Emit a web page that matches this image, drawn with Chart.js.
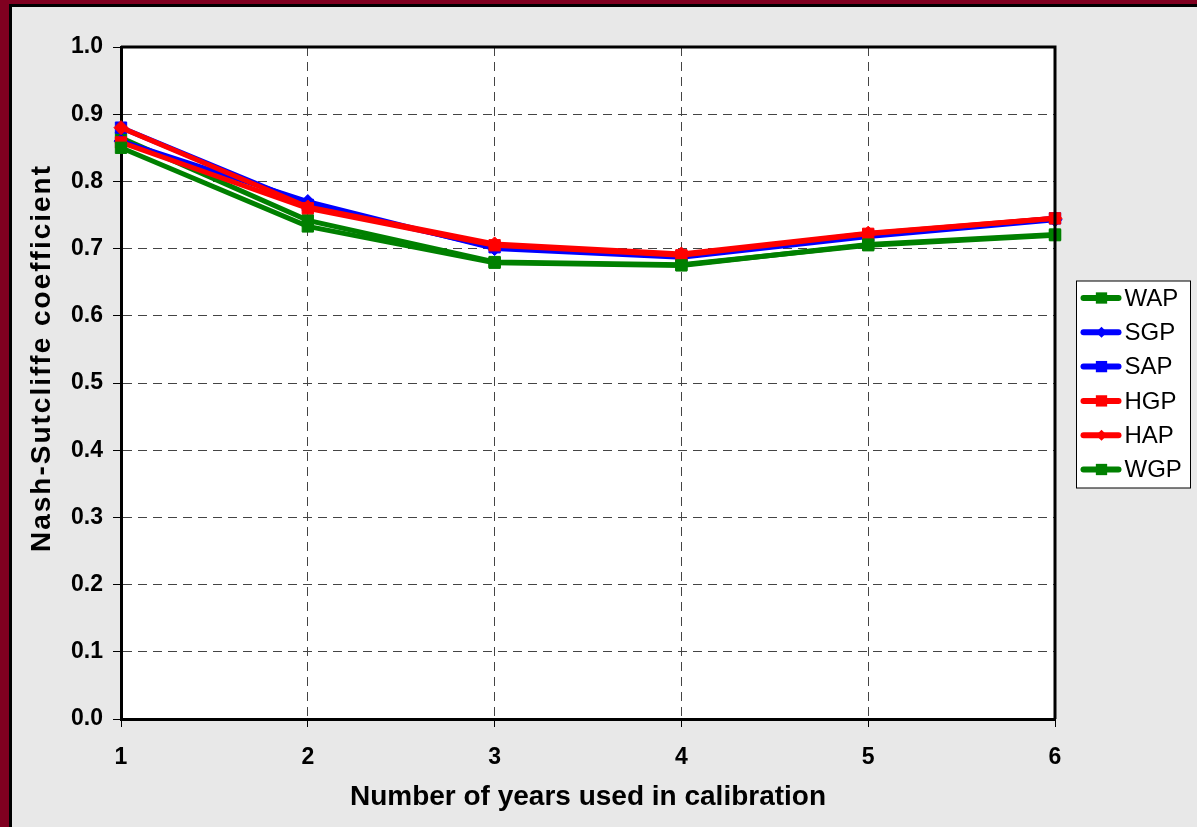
<!DOCTYPE html>
<html>
<head>
<meta charset="utf-8">
<script src="https://cdn.jsdelivr.net/npm/chart.js@4.4.1/dist/chart.umd.min.js"></script>
<style>
  html, body { margin: 0; padding: 0; background: #800020; }
  body { width: 1197px; height: 827px; overflow: hidden; }
  #frame {
    position: absolute; left: 9px; top: 4px;
    width: 1185px; height: 820px;
    border-left: 3px solid #000; border-top: 3px solid #000;
    background: #e8e8e8;
  }
  #frame canvas { display: block; }
</style>
</head>
<body>
<div id="frame"><canvas id="myChart" width="1185" height="820"></canvas></div>
<script>
// years of calibration on the x axis
const years = ['1', '2', '3', '4', '5', '6'];

// Nash-Sutcliffe values
const wap = [0.865, 0.742, 0.680, 0.676, 0.705, 0.720];
const sgp = [0.860, 0.770, 0.700, 0.687, 0.718, 0.743];
const sap = [0.880, 0.765, 0.702, 0.689, 0.720, 0.745];
const hgp = [0.858, 0.760, 0.705, 0.690, 0.722, 0.745];
const hap = [0.880, 0.762, 0.707, 0.692, 0.723, 0.745];
const wgp = [0.850, 0.733, 0.679, 0.675, 0.706, 0.721];

const seriesNames = ['WAP', 'SGP', 'SAP', 'HGP', 'HAP', 'WGP'];
const seriesData = [wap, sgp, sap, hgp, hap, wgp];
const seriesColors = ['#008000', '#0000ff', '#0000ff', '#ff0000', '#ff0000', '#008000'];
const seriesMarkers = ['rect', 'rectRot', 'rect', 'rect', 'rectRot', 'rect'];

const yMin = 0, yMax = 1, yStep = 0.1;

const FONT = 'Arial, "Liberation Sans", sans-serif';
const yTitle = 'Nash-Sutcliffe coefficient';

function markerRadius(style) {
    return style === 'rect' ? 8 : 7;
}

const datasets = seriesNames.map((name, i) => ({
    label: name,
    data: seriesData[i],
    borderColor: seriesColors[i],
    backgroundColor: seriesColors[i],
    borderWidth: 5,
    pointStyle: seriesMarkers[i],
    pointRadius: markerRadius(seriesMarkers[i]),
    pointBorderWidth: 1,
    pointHoverRadius: markerRadius(seriesMarkers[i]),
    tension: 0,
    // excel draws later series on top
    order: seriesNames.length - i
}));

// white plot area + border round it, and the y title
const plotArea = {
    id: 'plotArea',
    beforeDraw(chart) {
        const { ctx, chartArea: a } = chart;
        ctx.save();
        ctx.fillStyle = '#ffffff';
        ctx.fillRect(a.left, a.top, a.right - a.left, a.bottom - a.top);
        ctx.restore();
    },
    afterDatasetsDraw(chart) {
        const { ctx, chartArea: a } = chart;
        ctx.save();
        ctx.strokeStyle = '#000';
        ctx.lineWidth = 3;
        ctx.beginPath();
        ctx.moveTo(a.left, a.top);
        ctx.lineTo(a.right, a.top);
        ctx.lineTo(a.right, a.bottom);
        ctx.stroke();
        ctx.restore();
    },
    afterDraw(chart) {
        const { ctx, chartArea: a } = chart;
        ctx.save();
        ctx.translate(a.left - 79, (a.top + a.bottom) / 2 - 25);
        ctx.rotate(-Math.PI / 2);
        ctx.font = 'bold 28px ' + FONT;
        if ('letterSpacing' in ctx) ctx.letterSpacing = '2px';
        ctx.fillStyle = '#000';
        ctx.textAlign = 'center';
        ctx.textBaseline = 'middle';
        ctx.fillText(yTitle, 0, 0);
        ctx.restore();
    }
};

function drawMarker(ctx, style, x, y, r) {
    ctx.beginPath();
    if (style === 'rect') {
        const s = r * Math.SQRT1_2;
        ctx.rect(x - s, y - s, 2 * s, 2 * s);
    } else {
        ctx.moveTo(x, y - r);
        ctx.lineTo(x + r, y);
        ctx.lineTo(x, y + r);
        ctx.lineTo(x - r, y);
        ctx.closePath();
    }
    ctx.fill();
}

// boxed legend on the right, like the excel one
const boxLegend = {
    id: 'boxLegend',
    afterDraw(chart) {
        const { ctx, chartArea: a } = chart;
        const rowH = 34.3;
        const boxW = 114, boxH = 207;
        const bx = a.right + 21.5;
        const by = (a.top + a.bottom) / 2 - boxH / 2 + 1.5;
        ctx.save();
        ctx.fillStyle = '#ffffff';
        ctx.fillRect(bx, by, boxW, boxH);
        ctx.strokeStyle = '#000';
        ctx.lineWidth = 1;
        ctx.strokeRect(bx, by, boxW, boxH);
        ctx.font = '24px ' + FONT;
        ctx.textBaseline = 'middle';
        ctx.textAlign = 'left';
        seriesNames.forEach((name, i) => {
            const y = by + 17 + i * rowH;
            ctx.strokeStyle = seriesColors[i];
            ctx.fillStyle = seriesColors[i];
            ctx.lineWidth = 6;
            ctx.lineCap = 'round';
            ctx.beginPath();
            ctx.moveTo(bx + 7, y);
            ctx.lineTo(bx + 42, y);
            ctx.stroke();
            drawMarker(ctx, seriesMarkers[i], bx + 25, y, seriesMarkers[i] === 'rect' ? 8 : 5.5);
            ctx.fillStyle = '#000';
            ctx.fillText(name, bx + 48, y + 1);
        });
        ctx.restore();
    }
};

const config = {
    type: 'line',
    data: { labels: years, datasets: datasets },
    plugins: [plotArea, boxLegend],
    options: {
        responsive: false,
        animation: false,
        events: [],
        layout: { padding: { top: 40, right: 142, left: 0, bottom: 0 } },
        plugins: {
            legend: { display: false },
            tooltip: { enabled: false }
        },
        scales: {
            x: {
                offset: false,
                afterFit(scale) { scale.height = 108; },
                border: { display: true, color: '#000', width: 3, dash: [9, 6] },
                grid: {
                    color: '#444',
                    lineWidth: 1,
                    drawTicks: true,
                    tickLength: 8,
                    tickColor: '#000',
                    tickWidth: 1,
                    tickBorderDash: []
                },
                ticks: {
                    color: '#000',
                    padding: 17,
                    maxRotation: 0,
                    font: { family: FONT, size: 23, weight: 'bold' }
                },
                title: {
                    display: true,
                    text: 'Number of years used in calibration',
                    color: '#000',
                    padding: { top: 4, bottom: 13 },
                    font: { family: FONT, size: 28, weight: 'bold' }
                }
            },
            y: {
                min: yMin,
                max: yMax,
                afterFit(scale) { scale.width = 109; },
                border: { display: true, color: '#000', width: 3, dash: [9, 6] },
                grid: {
                    color: '#444',
                    lineWidth: 1,
                    drawTicks: true,
                    tickLength: 8,
                    tickColor: '#000',
                    tickWidth: 1,
                    tickBorderDash: []
                },
                ticks: {
                    stepSize: yStep,
                    color: '#000',
                    padding: 10,
                    font: { family: FONT, size: 23, weight: 'bold' },
                    callback: v => Number(v).toFixed(1)
                },
                title: { display: false }
            }
        }
    }
};

const myChart = new Chart(document.getElementById('myChart'), config);
</script>
</body>
</html>
